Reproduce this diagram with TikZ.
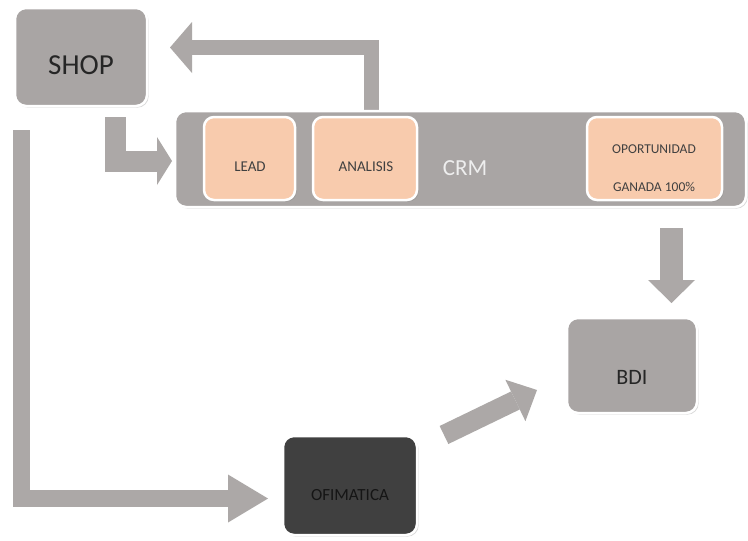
\documentclass[tikz,border=0pt]{standalone}
\usepackage{fontspec}
\setmainfont{Carlito}
\usetikzlibrary{arrows.meta,shadows,calc,backgrounds}

\definecolor{boxgray}{HTML}{A9A5A4}
\definecolor{arrowgray}{HTML}{ACA8A7}
\definecolor{peach}{HTML}{F8CBAD}
\definecolor{darkbox}{HTML}{404040}
\definecolor{inktext}{HTML}{262626}
\definecolor{darkink}{HTML}{151515}
\definecolor{crmtext}{HTML}{EEEEEE}

\tikzset{
  panel/.style={rectangle, rounded corners=11pt, draw=white, line width=2.5pt,
    fill=boxgray, inner sep=0pt, outer sep=0pt,
    drop shadow={opacity=0.28, shadow xshift=1.6pt, shadow yshift=-1.6pt}},
  stage/.style={panel, fill=peach, rounded corners=10pt},
  caption/.style={inner sep=0pt, outer sep=0pt, text=inktext},
  flow/.style={draw=arrowgray, line width=#1, line cap=butt, line join=miter},
}

\begin{document}
\begin{tikzpicture}[x=1pt, y=-1pt]
  \useasboundingbox (0,0) rectangle (748,541);

  % boxes
  \node[panel, minimum width=132pt, minimum height=98pt] (shop) at (81,57) {};
  \node[panel, minimum width=571pt, minimum height=96pt] (crm) at (460.5,159) {};
  \node[stage, minimum width=91pt, minimum height=83pt] (lead) at (249.5,158.5) {};
  \node[stage, minimum width=104pt, minimum height=83pt] (analisis) at (365,158.5) {};
  \node[stage, minimum width=135pt, minimum height=83pt] (opp) at (654.5,158.5) {};
  \node[panel, minimum width=130pt, minimum height=95pt] (bdi) at (632,365.5) {};
  \node[panel, fill=darkbox, minimum width=134pt, minimum height=99pt] (ofim) at (350,485.5) {};

  % labels
  \node[caption, font=\fontsize{29}{30}\selectfont] (shoptxt) at (81,65) {SHOP};
  \node[caption, font=\fontsize{15}{16}\selectfont, text=darkbox] (leadtxt) at (250,167) {LEAD};
  \node[caption, font=\fontsize{15}{16}\selectfont, text=darkbox] (analtxt) at (366,167) {ANALISIS};
  \node[caption, font=\fontsize{23}{24}\selectfont, text=crmtext] (crmtxt) at (465,168) {CRM};
  \node[caption, font=\fontsize{13.5}{14}\selectfont, text=darkbox] (opptxt1) at (654,149) {OPORTUNIDAD};
  \node[caption, font=\fontsize{13.5}{14}\selectfont, text=darkbox] (opptxt2) at (654,187) {GANADA 100\%};
  \node[caption, font=\fontsize{22}{23}\selectfont] (bditxt) at (632,377) {BDI};
  \node[caption, font=\fontsize{17}{18}\selectfont, text=darkink] (ofimtxt) at (350,495) {OFIMATICA};

  % block arrows, kept behind the boxes
  \begin{scope}[on background layer]
    \fill[white] (0,0) rectangle (748,541);
    % ANALISIS back to SHOP
    \draw[flow=15pt, -{Triangle[length=22pt,width=51pt,line width'=0pt]}]
      ($(analisis.north)+(6.5,-7)$) |- ($(shop.east)+(23,-9.5)$);
    % SHOP into CRM
    \draw[flow=21pt, -{Triangle[length=15pt,width=48pt,line width'=0pt]}]
      ($(shop.south)+(34,11)$) |- ($(crm.west)+(-3,2)$);
    % SHOP down and across to OFIMATICA
    \draw[flow=17pt, -{Triangle[length=40pt,width=48pt,line width'=0pt]}]
      ($(shop.south west)+(6.5,24)$) |- ($(ofim.west)+(-15,13)$);
    % opportunity won into BDI
    \draw[flow=23pt, -{Triangle[length=23pt,width=47pt,line width'=0pt]}]
      ($(opp.south)+(17,28)$) -- ($(bdi.north)+(39.5,-15)$);
    % OFIMATICA into BDI
    \draw[flow=20pt, -{Triangle[length=24pt,width=46pt,line width'=0pt]}]
      ($(ofim.north east)+(27,-1)$) -- ($(bdi.west)+(-30,24.5)$);
  \end{scope}
\end{tikzpicture}
\end{document}
